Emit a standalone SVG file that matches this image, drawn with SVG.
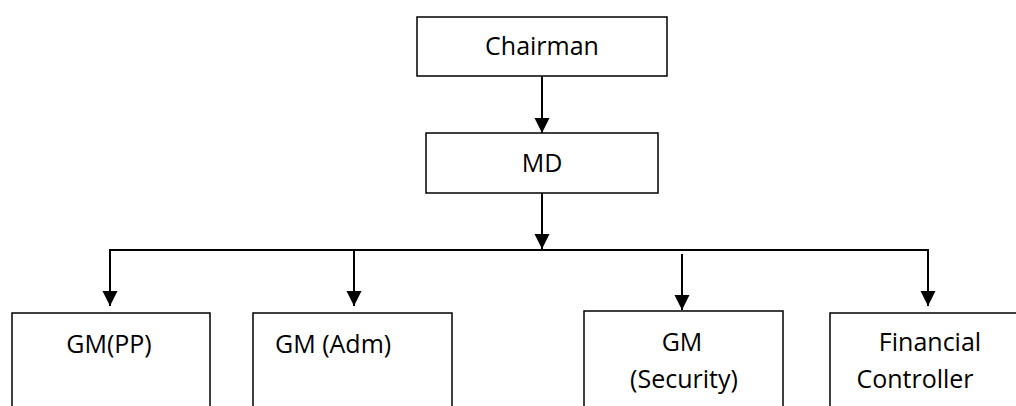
<svg xmlns="http://www.w3.org/2000/svg" width="1016" height="406" viewBox="0 0 1016 406">
<style>
.box{fill:#fff;stroke:#000;stroke-width:1.5}
.t{font-family:"Open Sans","Liberation Sans",sans-serif;font-size:25px;fill:#000}
.c{stroke:#000;stroke-width:2;fill:none}
</style>
<defs>
<marker id="ah" markerUnits="userSpaceOnUse" markerWidth="16" markerHeight="16" viewBox="0 0 16 16" refX="15" refY="8" orient="auto">
<path d="M0,0.5 L15,8 L0,15.5 Z" fill="#000"/>
</marker>
</defs>
<g id="connectors">
<line class="c" x1="542" y1="76" x2="542" y2="133" marker-end="url(#ah)"/>
<line class="c" x1="542" y1="193" x2="542" y2="249" marker-end="url(#ah)"/>
<polyline class="c" points="110,250 928,250"/>
<line class="c" x1="110" y1="249" x2="110" y2="306" marker-end="url(#ah)"/>
<line class="c" x1="354" y1="250" x2="354" y2="306" marker-end="url(#ah)"/>
<line class="c" x1="682" y1="254" x2="682" y2="310" marker-end="url(#ah)"/>
<line class="c" x1="928" y1="249" x2="928" y2="306" marker-end="url(#ah)"/>
</g>
<g id="chairman">
<rect class="box" x="417" y="17" width="250" height="59"/>
<text class="t" x="542" y="55" text-anchor="middle">Chairman</text>
</g>
<g id="md">
<rect class="box" x="426" y="133" width="232" height="60"/>
<text class="t" x="542" y="172" text-anchor="middle">MD</text>
</g>
<g id="gm-pp">
<rect class="box" x="12" y="313" width="198" height="110"/>
<text class="t" x="109" y="353" text-anchor="middle">GM(PP)</text>
</g>
<g id="gm-adm">
<rect class="box" x="253" y="313" width="199" height="110"/>
<text class="t" x="275" y="353">GM (Adm)</text>
</g>
<g id="gm-security">
<rect class="box" x="584" y="311" width="199" height="110"/>
<text class="t" x="682" y="351" text-anchor="middle">GM</text>
<text class="t" x="684" y="388" text-anchor="middle">(Security)</text>
</g>
<g id="financial-controller">
<rect class="box" x="830" y="313" width="200" height="110"/>
<text class="t" x="930" y="351" text-anchor="middle">Financial</text>
<text class="t" x="915" y="388" text-anchor="middle">Controller</text>
</g>
</svg>
